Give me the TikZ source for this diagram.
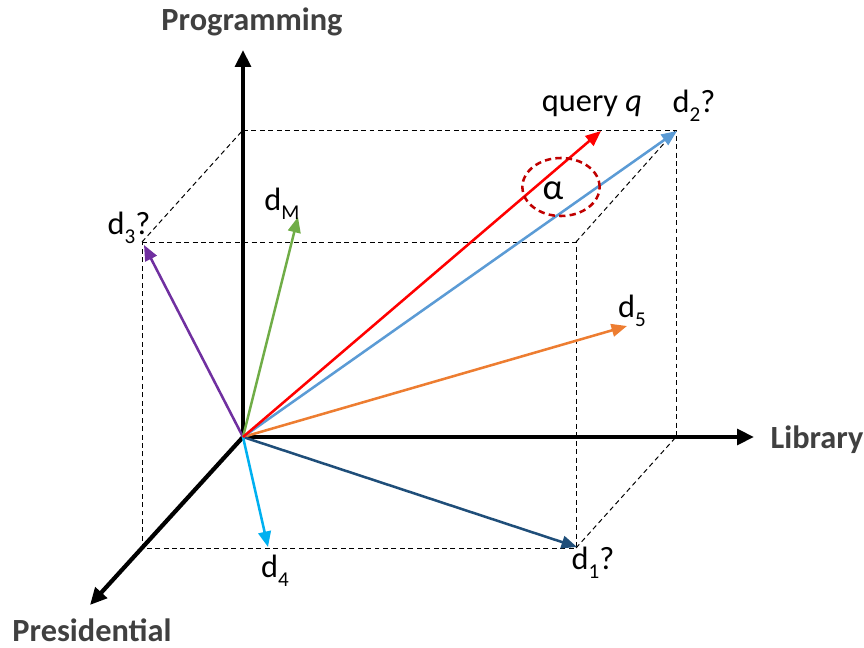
\documentclass[tikz,border=0pt]{standalone}
\usepackage{fontspec}
\setmainfont{Carlito}
\usetikzlibrary{arrows.meta, positioning, shapes.geometric}
\definecolor{axisgray}{HTML}{404040}
\definecolor{queryred}{HTML}{FF0000}
\definecolor{ringred}{HTML}{C00000}
\definecolor{dtwoblue}{HTML}{5B9BD5}
\definecolor{donenavy}{HTML}{1F4E79}
\definecolor{dthreepurple}{HTML}{7030A0}
\definecolor{dmgreen}{HTML}{70AD47}
\definecolor{dfiveorange}{HTML}{ED7D31}
\definecolor{dfourcyan}{HTML}{00B0F0}
\newcommand{\lowsub}[1]{\raisebox{-0.55ex}{\fontsize{15}{15}\selectfont #1}}
\tikzset{
    axis arrow/.style={
        line width=3pt,
        -{Triangle[length=12pt, width=11pt]}
    },
    term vector/.style={
        line width=1.8pt,
        -{Triangle[length=11pt, width=9pt]}
    },
    box edge/.style={
        line width=0.7pt,
        dash pattern=on 3.5pt off 2.5pt
    },
    axis label/.style={
        font=\fontsize{23}{26}\selectfont\bfseries,
        text=axisgray,
        inner sep=0pt
    },
    vec label/.style={
        font=\fontsize{23}{26}\selectfont,
        inner sep=0pt
    }
}
\begin{document}
\begin{tikzpicture}[x=0.025cm, y=-0.025cm]
                \useasboundingbox (0,0) rectangle (864,648);

                % Corners of the dashed box
                \coordinate (O) at (243,437);
                \coordinate (ftl) at (142,242);
                \coordinate (ftr) at (576,242);
                \coordinate (fbl) at (142,548);
                \coordinate (fbr) at (576,548);
                \coordinate (btl) at (243,130);
                \coordinate (btr) at (676,130);
                \coordinate (bbr) at (676,437);

                % Dashed box
                \draw[box edge] (ftl) -- (ftr) -- (fbr) -- (fbl) -- cycle;
                \draw[box edge] (btl) -- (btr) -- (bbr);
                \draw[box edge] (ftl) -- (btl);
                \draw[box edge] (ftr) -- (btr);
                \draw[box edge] (fbr) -- (bbr);

                % Axes
                \coordinate (prog tip) at (243,50);
                \coordinate (lib tip) at (754,437);
                \coordinate (pres tip) at (90,605);
                \draw[axis arrow] (O) -- (prog tip);
                \draw[axis arrow] (O) -- (lib tip);
                \draw[axis arrow] (O) -- (pres tip);
                \node[axis label] (prog) at (252,22) {Programming};
                \node[axis label] (lib) at (817,440) {Library};
                \node[axis label] (pres) at (92,630) {Presidential};

                % Document and query vectors
                \coordinate (q tip) at (601,131);
                \coordinate (d2 tip) at (677,131);
                \coordinate (d3 tip) at (144,245);
                \coordinate (dM tip) at (298,217);
                \coordinate (d5 tip) at (627,326);
                \coordinate (d1 tip) at (577,547);
                \coordinate (d4 tip) at (268,547);
                \draw[term vector, dthreepurple] (O) -- (d3 tip);
                \draw[term vector, dmgreen] (O) -- (dM tip);
                \draw[term vector, dfiveorange] (O) -- (d5 tip);
                \draw[term vector, donenavy] (O) -- (d1 tip);
                \draw[term vector, dfourcyan] (O) -- (d4 tip);
                \draw[term vector, dtwoblue] (O) -- (d2 tip);
                \draw[term vector, queryred] (O) -- (q tip);

                % Angle between query and d2
                \node[ellipse, draw=ringred, line width=1.8pt, dash pattern=on 4.5pt off 3pt,
                      minimum width=1.93cm, minimum height=1.45cm, inner sep=0pt] (ring) at (561,187) {};
                \node[vec label, font=\fontsize{26}{28}\selectfont] (alpha) at (553,191) {α};

                % Labels
                \node[vec label] (q) at (592,106) {query \textit{q}};
                \node[vec label] (d2) at (694,106) {d\lowsub{2}?};
                \node[vec label] (d3) at (129,228) {d\lowsub{3}?};
                \node[vec label] (dM) at (282,204) {d\lowsub{M}};
                \node[vec label] (d5) at (632,311) {d\lowsub{5}};
                \node[vec label] (d1) at (593,563) {d\lowsub{1}?};
                \node[vec label] (d4) at (275,571) {d\lowsub{4}};
            \end{tikzpicture}
\end{document}
